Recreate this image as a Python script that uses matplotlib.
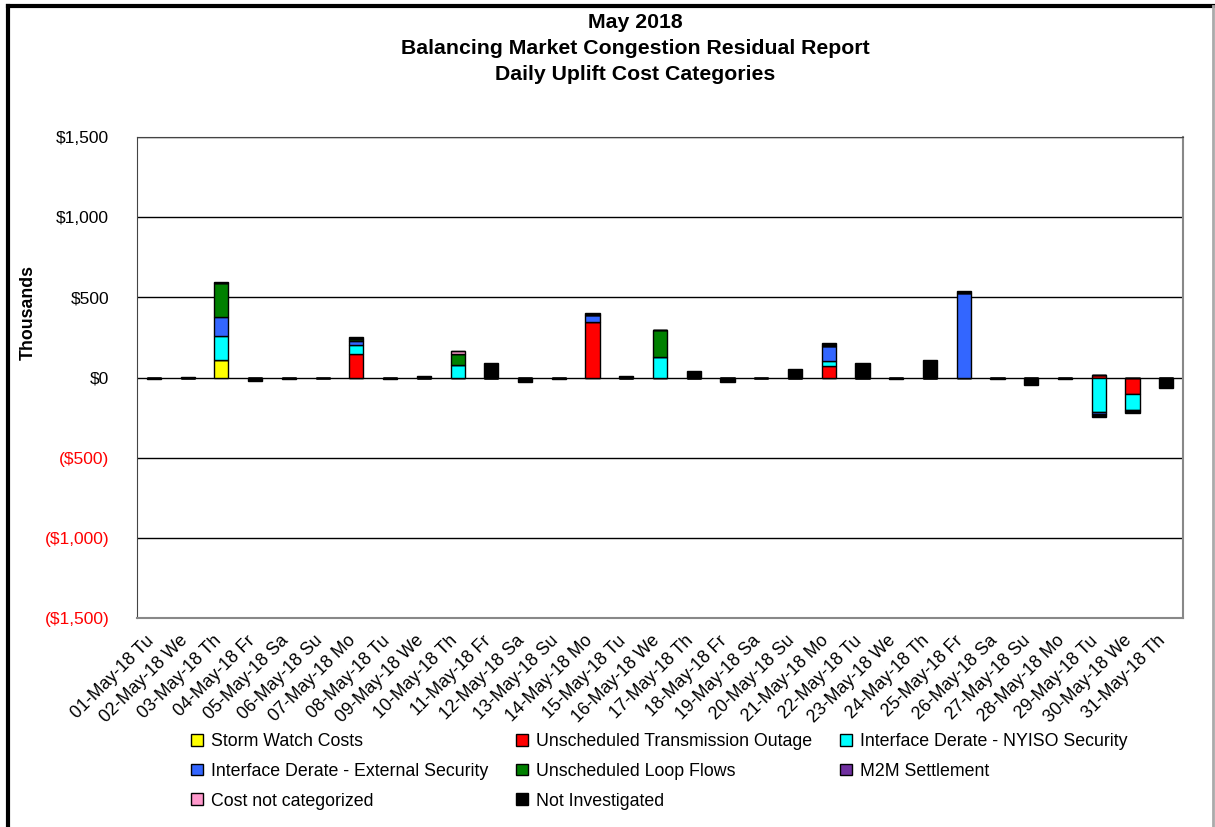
import numpy as np
import matplotlib.pyplot as plt
import matplotlib.transforms as mtransforms
from matplotlib.lines import Line2D
from matplotlib.patches import Patch

plt.rcParams['font.family'] = ['Liberation Sans', 'DejaVu Sans']

# Daily labels
days = ["01-May-18 Tu", "02-May-18 We", "03-May-18 Th", "04-May-18 Fr", "05-May-18 Sa",
        "06-May-18 Su", "07-May-18 Mo", "08-May-18 Tu", "09-May-18 We", "10-May-18 Th",
        "11-May-18 Fr", "12-May-18 Sa", "13-May-18 Su", "14-May-18 Mo", "15-May-18 Tu",
        "16-May-18 We", "17-May-18 Th", "18-May-18 Fr", "19-May-18 Sa", "20-May-18 Su",
        "21-May-18 Mo", "22-May-18 Tu", "23-May-18 We", "24-May-18 Th", "25-May-18 Fr",
        "26-May-18 Sa", "27-May-18 Su", "28-May-18 Mo", "29-May-18 Tu", "30-May-18 We",
        "31-May-18 Th"]

# Values in $ thousands
storm_watch = [0, 0, 111, 0, 0, 0, 0, 0, 0, 0, 0, 0, 0, 0, 0, 0, 0, 0, 0, 0,
               0, 0, 0, 0, 0, 0, 0, 0, 0, 0, 0]
trans_outage = [0, 0, 0, 0, 0, 0, 146, 0, 0, 0, 0, 0, 0, 347, 0, 0, 0, 0, 0, 0,
                70, 0, 0, 0, 0, 0, 0, 0, 15, -100, 0]
nyiso_security = [0, 0, 150, 0, 0, 0, 57, 0, 0, 76, 0, 0, 0, 0, 0, 128, 0, 0, 0, 0,
                  35, 0, 0, 0, 0, 0, 0, 0, -216, -103, 0]
external_security = [0, 0, 117, 0, 0, 0, 25, 0, 0, 0, 0, 0, 0, 46, 0, 0, 0, 0, 0, 0,
                     94, 0, 0, 0, 526, 0, 0, 0, -10, 0, 0]
loop_flows = [0, 0, 210, 0, 0, 0, 15, 0, 0, 70, 0, 0, 0, 0, 0, 168, 0, 0, 0, 0,
              0, 0, 0, 0, 0, 0, 0, 0, 0, 0, 0]
m2m_settlement = [0] * 31
not_categorized = [0, 0, 0, 0, 0, 0, 0, 0, 0, 18, 0, 0, 0, 0, 0, 0, 0, 0, 0, 0,
                   0, 0, 0, 0, 0, 0, 0, 0, 0, -8, 0]
not_investigated = [-12, 6, 10, -22, -12, -5, 12, -12, 8, 0, 90, -25, -12, 12, 8, 0,
                    40, -25, -5, 55, 15, 88, -12, 112, 12, -10, -48, -10, -20, -8, -65]

series = [
    ("Storm Watch Costs", storm_watch, "#FFFF00"),
    ("Unscheduled Transmission Outage", trans_outage, "#FF0000"),
    ("Interface Derate - NYISO Security", nyiso_security, "#00FFFF"),
    ("Interface Derate - External Security", external_security, "#3366FF"),
    ("Unscheduled Loop Flows", loop_flows, "#008000"),
    ("M2M Settlement", m2m_settlement, "#7030A0"),
    ("Cost not categorized", not_categorized, "#FF99CC"),
    ("Not Investigated", not_investigated, "#000000"),
]

fig = plt.figure(figsize=(12.15, 8.27), dpi=100)
ax = fig.add_axes([0.1128, 0.2527, 0.8609, 0.5816])

x = np.arange(len(days))
pos_base = np.zeros(len(days))
neg_base = np.zeros(len(days))
handles = []
for name, vals, col in series:
    v = np.array(vals, dtype=float)
    bottom = np.where(v >= 0, pos_base, neg_base)
    ax.bar(x, v, 0.42, bottom=bottom, color=col, edgecolor="black", linewidth=1, zorder=3)
    pos_base += np.where(v > 0, v, 0)
    neg_base += np.where(v < 0, v, 0)
    handles.append(Patch(facecolor=col, edgecolor="black", linewidth=1, label=name))

ax.set_xlim(-0.5, len(days) - 0.5)
ax.set_ylim(-1500, 1500)
ticks = np.arange(-1500, 1501, 500)
ax.set_yticks(ticks)
labels = []
for t in ticks:
    s = "${:,.0f}".format(abs(t))
    labels.append("(" + s + ")" if t < 0 else s)
ax.set_yticklabels(labels, fontsize=12.5)
for lab, t in zip(ax.get_yticklabels(), ticks):
    lab.set_color("red" if t < 0 else "black")
ax.yaxis.grid(True, color="black", linewidth=1, zorder=1)
ax.tick_params(axis="y", length=0, pad=20)
ax.tick_params(axis="x", length=0, pad=3)
ax.set_xticks(x)
ax.set_xticklabels(days, rotation=45, ha="right", rotation_mode="anchor", fontsize=12.8)
shift = mtransforms.ScaledTranslation(-0.09, -0.10, fig.dpi_scale_trans)
for lab in ax.get_xticklabels():
    lab.set_transform(lab.get_transform() + shift)
for side in ["left", "top"]:
    ax.spines[side].set_color("#444444")
for side in ["right", "bottom"]:
    ax.spines[side].set_color("#888888")
    ax.spines[side].set_linewidth(1.5)

fig.text(28 / 1215, 1 - 312 / 827, "Thousands", rotation=90, ha="center", va="center",
         fontsize=12.8, fontweight="bold")

fig.text(0.523, 1 - 13 / 827, "May 2018\nBalancing Market Congestion Residual Report\nDaily Uplift Cost Categories",
         ha="center", va="top", fontsize=15.3, fontweight="bold", linespacing=1.45)

# legend laid out in three fixed columns like the original
columns = [([0, 3, 6], 191), ([1, 4, 7], 516), ([2, 5], 840)]
for idx, xpix in columns:
    leg = fig.legend([handles[i] for i in idx], [handles[i].get_label() for i in idx],
                     loc="upper left", bbox_to_anchor=(xpix / 1215, 1 - 733 / 827), ncol=1,
                     frameon=False, fontsize=12.8, handlelength=0.65, handleheight=0.65,
                     handletextpad=0.45, labelspacing=0.72, borderaxespad=0, borderpad=0)

# outer chart frame
fig.add_artist(Line2D([0.0066, 0.0066], [0, 0.993], color="black", linewidth=3, transform=fig.transFigure))
fig.add_artist(Line2D([0.0066, 0.998], [0.993, 0.993], color="black", linewidth=3, transform=fig.transFigure))
fig.add_artist(Line2D([0.998, 0.998], [0, 0.993], color="#aaaaaa", linewidth=2, transform=fig.transFigure))

fig.savefig("out.png", dpi=100)
